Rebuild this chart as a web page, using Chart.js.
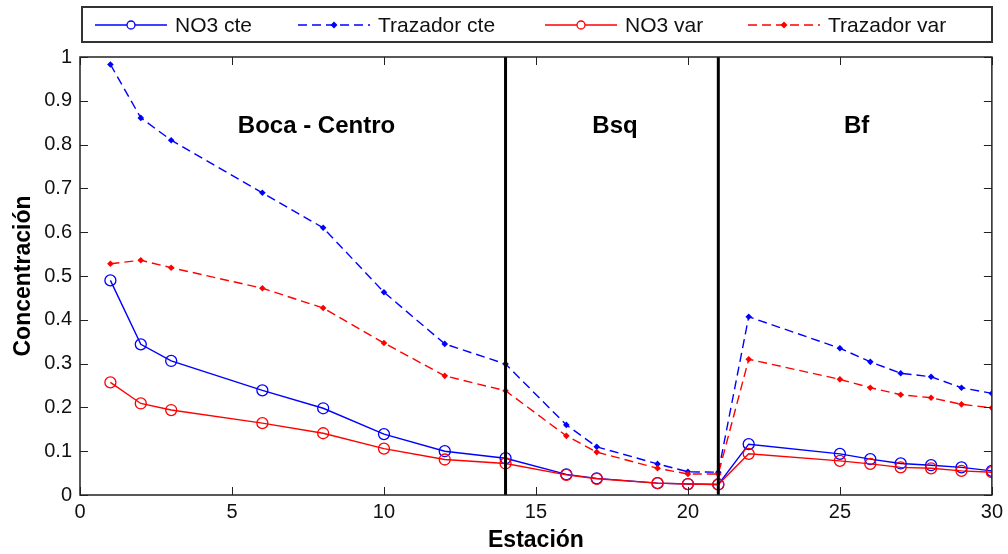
<!DOCTYPE html>
<html>
<head>
<meta charset="utf-8">
<script src="https://cdn.jsdelivr.net/npm/chart.js@4/dist/chart.umd.min.js"></script>
<style>
  html, body { margin: 0; padding: 0; background: #fff; }
  #wrap { width: 1008px; height: 554px; position: relative; }
</style>
</head>
<body>
<div id="wrap"><canvas id="c" width="1008" height="554"></canvas></div>
<script>
// Estaciones muestreadas
const estaciones = [1, 2, 3, 6, 8, 10, 12, 14, 16, 17, 19, 20, 21, 22, 25, 26, 27, 28, 29, 30];

// Concentraciones por serie
const no3Cte      = [0.490, 0.344, 0.306, 0.239, 0.198, 0.139, 0.100, 0.084, 0.047, 0.038, 0.027, 0.025, 0.024, 0.116, 0.094, 0.082, 0.072, 0.068, 0.063, 0.055];
const trazadorCte = [0.983, 0.861, 0.810, 0.690, 0.610, 0.463, 0.345, 0.299, 0.160, 0.110, 0.071, 0.053, 0.052, 0.407, 0.335, 0.304, 0.278, 0.270, 0.245, 0.232];
const no3Var      = [0.257, 0.209, 0.194, 0.164, 0.141, 0.106, 0.081, 0.072, 0.046, 0.037, 0.027, 0.025, 0.024, 0.094, 0.078, 0.071, 0.063, 0.061, 0.055, 0.052];
const trazadorVar = [0.528, 0.536, 0.519, 0.472, 0.427, 0.347, 0.272, 0.238, 0.135, 0.098, 0.061, 0.048, 0.048, 0.310, 0.264, 0.245, 0.229, 0.222, 0.207, 0.199];

// Límites entre zonas y sus nombres
const limitesZona = [14, 21];
const zonas = ['Boca - Centro', 'Bsq', 'Bf'];
const zonaX = [7.78, 17.6, 25.55];
const zonaY = 0.826;

// Marcas de los ejes
const xTicks = [0, 5, 10, 15, 20, 25, 30];
const yTicks = [0, 0.1, 0.2, 0.3, 0.4, 0.5, 0.6, 0.7, 0.8, 0.9, 1];

const FONT = '"Liberation Sans", Arial, Helvetica, sans-serif';
const BLUE = '#0000ff';
const RED = '#ff0000';
const DASH = [9, 5];

const pts = arr => estaciones.map((x, i) => ({ x: x, y: arr[i] }));

const series = [
  { label: 'NO3 cte', data: pts(no3Cte), borderColor: BLUE, backgroundColor: 'rgba(0,0,0,0)',
    pointStyle: 'circle', pointRadius: 5.5, pointBorderWidth: 1.3, pointBorderColor: BLUE,
    pointBackgroundColor: 'rgba(0,0,0,0)', borderWidth: 1.4, order: 3, inLegend: true, marker: 'o' },
  { label: 'Trazador cte', data: pts(trazadorCte), borderColor: BLUE, backgroundColor: BLUE,
    borderDash: DASH, pointStyle: 'rectRot', pointRadius: 3.3, pointBorderWidth: 0,
    pointBackgroundColor: BLUE, borderWidth: 1.4, order: 4, inLegend: true, marker: '.' },
  { label: 'NO3 var', data: pts(no3Var), borderColor: RED, backgroundColor: 'rgba(0,0,0,0)',
    pointStyle: 'circle', pointRadius: 5.5, pointBorderWidth: 1.3, pointBorderColor: RED,
    pointBackgroundColor: 'rgba(0,0,0,0)', borderWidth: 1.4, order: 1, inLegend: true, marker: 'o' },
  { label: 'Trazador var', data: pts(trazadorVar), borderColor: RED, backgroundColor: RED,
    borderDash: DASH, pointStyle: 'rectRot', pointRadius: 3.3, pointBorderWidth: 0,
    pointBackgroundColor: RED, borderWidth: 1.4, order: 2, inLegend: true, marker: '.' }
];

// Líneas verticales de separación entre zonas
const separadores = limitesZona.map(x => ({
  label: 'limite ' + x, data: [{ x: x, y: 0 }, { x: x, y: 1 }], borderColor: '#000',
  borderWidth: 3, pointRadius: 0, order: 0, inLegend: false
}));

// Marco, marcas interiores, leyenda y nombres de zona
const decor = {
  id: 'decor',
  afterDatasetsDraw(chart) {
    const { ctx, chartArea: a, scales } = chart;
    const xs = scales.x, ys = scales.y;
    ctx.save();
    // marcas hacia dentro
    ctx.strokeStyle = '#222';
    ctx.lineWidth = 1;
    const tl = 8;
    xTicks.forEach(v => {
      const px = Math.round(xs.getPixelForValue(v)) + 0.5;
      ctx.beginPath();
      ctx.moveTo(px, a.bottom); ctx.lineTo(px, a.bottom - tl);
      ctx.moveTo(px, a.top); ctx.lineTo(px, a.top + tl);
      ctx.stroke();
    });
    yTicks.forEach(v => {
      const py = Math.round(ys.getPixelForValue(v)) + 0.5;
      ctx.beginPath();
      ctx.moveTo(a.left, py); ctx.lineTo(a.left + tl, py);
      ctx.moveTo(a.right, py); ctx.lineTo(a.right - tl, py);
      ctx.stroke();
    });
    // marco del eje
    ctx.lineWidth = 1.5;
    ctx.strokeStyle = '#222';
    ctx.strokeRect(a.left, a.top, a.right - a.left, a.bottom - a.top);

    // nombres de zona
    ctx.fillStyle = '#000';
    ctx.font = 'bold 24px ' + FONT;
    ctx.textAlign = 'center';
    ctx.textBaseline = 'alphabetic';
    zonas.forEach((t, i) => {
      ctx.fillText(t, xs.getPixelForValue(zonaX[i]), ys.getPixelForValue(zonaY));
    });

    // leyenda
    const box = { x: 82, y: 7, w: 910, h: 35 };
    ctx.fillStyle = '#fff';
    ctx.fillRect(box.x, box.y, box.w, box.h);
    ctx.strokeStyle = '#333';
    ctx.lineWidth = 2;
    ctx.strokeRect(box.x, box.y, box.w, box.h);
    const slots = [95, 298, 545, 748];
    const cy = 25;
    ctx.font = '21px ' + FONT;
    ctx.textAlign = 'left';
    ctx.textBaseline = 'middle';
    chart.data.datasets.filter(d => d.inLegend).forEach((d, i) => {
      const x0 = slots[i], x1 = x0 + 72, xm = (x0 + x1) / 2;
      ctx.strokeStyle = d.borderColor;
      ctx.lineWidth = 1.4;
      ctx.setLineDash(d.borderDash || []);
      ctx.beginPath(); ctx.moveTo(x0, cy); ctx.lineTo(x1, cy); ctx.stroke();
      ctx.setLineDash([]);
      if (d.marker === 'o') {
        ctx.fillStyle = '#fff';
        ctx.beginPath(); ctx.arc(xm, cy, 4, 0, Math.PI * 2); ctx.fill();
        ctx.lineWidth = 1.3;
        ctx.stroke();
      } else {
        ctx.fillStyle = d.borderColor;
        ctx.beginPath();
        ctx.moveTo(xm, cy - 3.5); ctx.lineTo(xm + 3.5, cy);
        ctx.lineTo(xm, cy + 3.5); ctx.lineTo(xm - 3.5, cy);
        ctx.closePath(); ctx.fill();
      }
      ctx.fillStyle = '#111';
      ctx.fillText(d.label, x1 + 8, cy + 1);
    });
    ctx.restore();
  }
};

new Chart(document.getElementById('c'), {
  type: 'scatter',
  data: {
    datasets: series.map(s => Object.assign({ showLine: true, tension: 0, fill: false }, s))
      .concat(separadores.map(s => Object.assign({ showLine: true, fill: false }, s)))
  },
  options: {
    responsive: false,
    animation: false,
    events: [],
    layout: { padding: { top: 57, right: 11, left: 0, bottom: 0 } },
    plugins: { legend: { display: false }, tooltip: { enabled: false } },
    scales: {
      x: {
        type: 'linear', min: 0, max: 30,
        afterBuildTicks: s => { s.ticks = xTicks.map(v => ({ value: v })); },
        afterFit: s => { s.height = 59; },
        grid: { display: false, drawTicks: false },
        border: { display: false },
        ticks: { color: '#111', font: { family: FONT, size: 20 }, padding: 5,
                 maxRotation: 0, autoSkip: false },
        title: { display: true, text: 'Estación', color: '#000',
                 font: { family: FONT, size: 23, weight: 'bold' }, padding: { top: 6, bottom: 0 } }
      },
      y: {
        type: 'linear', min: 0, max: 1,
        afterBuildTicks: s => { s.ticks = yTicks.map(v => ({ value: v })); },
        afterFit: s => { s.width = 80; },
        grid: { display: false, drawTicks: false },
        border: { display: false },
        ticks: { color: '#111', font: { family: FONT, size: 20 }, padding: 8,
                 callback: v => String(Math.round(v * 10) / 10) },
        title: { display: true, text: 'Concentración', color: '#000',
                 font: { family: FONT, size: 23, weight: 'bold' }, padding: { top: 10, bottom: 0 } }
      }
    }
  },
  plugins: [decor]
});
</script>
</body>
</html>
